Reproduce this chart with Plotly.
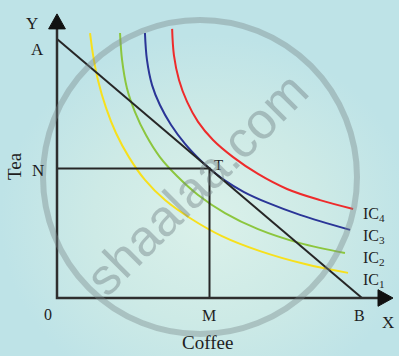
import base64
import plotly.graph_objects as go

# ---- data (economic units: Coffee on x, Tea on y) ----
budget_x = [0, 12]          # A on Tea axis, B on Coffee axis
budget_y = [10, 0]
T_point = (6.0, 5.0)        # tangency point (M, N)

ic1_x = [1.30, 1.42, 1.61, 1.93, 2.32, 2.83, 3.46, 4.25, 5.23, 6.49, 7.99, 9.76, 11.45]
ic1_y = [10.23, 9.38, 8.42, 7.34, 6.37, 5.44, 4.56, 3.78, 3.09, 2.39, 1.81, 1.31, 0.97]
ic2_x = [2.48, 2.56, 2.75, 3.07, 3.50, 4.05, 4.72, 5.55, 6.61, 7.91, 9.56, 11.33]
ic2_y = [10.23, 9.19, 8.11, 7.18, 6.29, 5.44, 4.71, 3.98, 3.28, 2.66, 2.12, 1.74]
ic3_x = [3.46, 3.54, 3.74, 4.05, 4.49, 5.04, 5.63, 6.00, 6.57, 7.36, 8.30, 9.56, 11.53]
ic3_y = [10.23, 9.19, 8.22, 7.45, 6.68, 5.95, 5.33, 5.00, 4.56, 4.09, 3.67, 3.21, 2.63]
ic4_x = [4.53, 4.60, 4.80, 5.12, 5.55, 6.14, 6.93, 7.91, 9.05, 10.35, 11.65]
ic4_y = [10.39, 9.38, 8.42, 7.57, 6.80, 6.10, 5.44, 4.79, 4.21, 3.78, 3.44]

ic_names = ["IC<sub>1</sub>", "IC<sub>2</sub>", "IC<sub>3</sub>", "IC<sub>4</sub>"]
ic_label_y = [0.69, 1.54, 2.39, 3.24]
ic_colors = ["#f7e01c", "#8cc63e", "#2a3597", "#ee2b2b"]

W, H = 399, 356
X0, X1 = -2.2426, 13.456
Y0, Y1 = -2.2394, 11.506

BG = "#bee3e7"
svg = f"""<svg xmlns='http://www.w3.org/2000/svg' width='{W}' height='{H}'>
<defs><radialGradient id='g' cx='0.52' cy='0.62' r='0.52'>
<stop offset='0' stop-color='#dbf1ea'/><stop offset='0.55' stop-color='#cdeae6'/><stop offset='1' stop-color='{BG}'/></radialGradient></defs>
<rect width='{W}' height='{H}' fill='url(#g)'/></svg>"""
bg_uri = "data:image/svg+xml;base64," + base64.b64encode(svg.encode()).decode()

fig = go.Figure()

for xs, ys, col in zip([ic1_x, ic2_x, ic3_x, ic4_x], [ic1_y, ic2_y, ic3_y, ic4_y], ic_colors):
    fig.add_trace(go.Scatter(x=xs, y=ys, mode="lines", line=dict(color=col, width=2, shape="spline", smoothing=1.0),
                             hoverinfo="skip"))

# budget line
fig.add_trace(go.Scatter(x=budget_x, y=budget_y, mode="lines", line=dict(color="#262626", width=2), hoverinfo="skip"))
# N-T and T-M lines
tx, ty = T_point
fig.add_trace(go.Scatter(x=[0, tx, tx], y=[ty, ty, 0], mode="lines", line=dict(color="#262626", width=2), hoverinfo="skip"))

# axes with arrows
fig.add_trace(go.Scatter(x=[0, 0, 12.63], y=[10.39, 0, 0], mode="lines", line=dict(color="#2e2e2e", width=2.5), hoverinfo="skip"))
fig.add_trace(go.Scatter(x=[-0.33, 0, 0.33, -0.33], y=[10.39, 10.97, 10.39, 10.39], mode="lines", fill="toself",
                         fillcolor="#111", line=dict(color="#111", width=1), hoverinfo="skip"))
fig.add_trace(go.Scatter(x=[12.63, 13.22, 12.63, 12.63], y=[0.32, 0, -0.32, 0.32], mode="lines", fill="toself",
                         fillcolor="#111", line=dict(color="#111", width=1), hoverinfo="skip"))

serif = "Liberation Serif"
def lab(x, y, text, size=17, **kw):
    fig.add_annotation(x=x, y=y, text=text, showarrow=False, font=dict(family=serif, size=size, color="#1e1e1e"), **kw)

lab(-0.98, 10.58, "Y")
lab(-0.75, 9.61, "A")
lab(-0.75, 4.93, "N")
lab(-1.65, 5.1, "Tea", size=19, textangle=-90)
lab(-0.35, -0.62, "0", size=16)
lab(5.98, -0.66, "M", size=16)
lab(11.92, -0.66, "B", size=16)
lab(13.02, -0.93, "X", size=17)
lab(5.94, -1.70, "Coffee", size=19)
lab(6.37, 5.14, "T", size=15)
for name, yy in zip(ic_names, ic_label_y):
    lab(11.96, yy, name, size=16, xanchor="left")

# watermark
fig.add_shape(type="circle", xref="paper", yref="paper",
              x0=(200 - 157) / W, x1=(200 + 157) / W, y0=1 - (177 + 157) / H, y1=1 - (177 - 157) / H,
              line=dict(color="rgba(120,135,138,0.40)", width=6), layer="above")
fig.add_annotation(xref="paper", yref="paper", x=196 / W, y=1 - 184 / H, text="shaalaa.com", showarrow=False,
                   textangle=-45, font=dict(family="Liberation Sans", size=51, color="rgba(110,125,128,0.42)"))

fig.update_layout(
    width=W, height=H, margin=dict(l=0, r=0, t=0, b=0),
    paper_bgcolor=BG, plot_bgcolor="rgba(0,0,0,0)", showlegend=False,
    xaxis=dict(range=[X0, X1], visible=False, fixedrange=True),
    yaxis=dict(range=[Y0, Y1], visible=False, fixedrange=True),
    images=[dict(source=bg_uri, xref="paper", yref="paper", x=0, y=1, sizex=1, sizey=1,
                 sizing="stretch", layer="below", xanchor="left", yanchor="top")],
)

fig.write_html("out.html")
